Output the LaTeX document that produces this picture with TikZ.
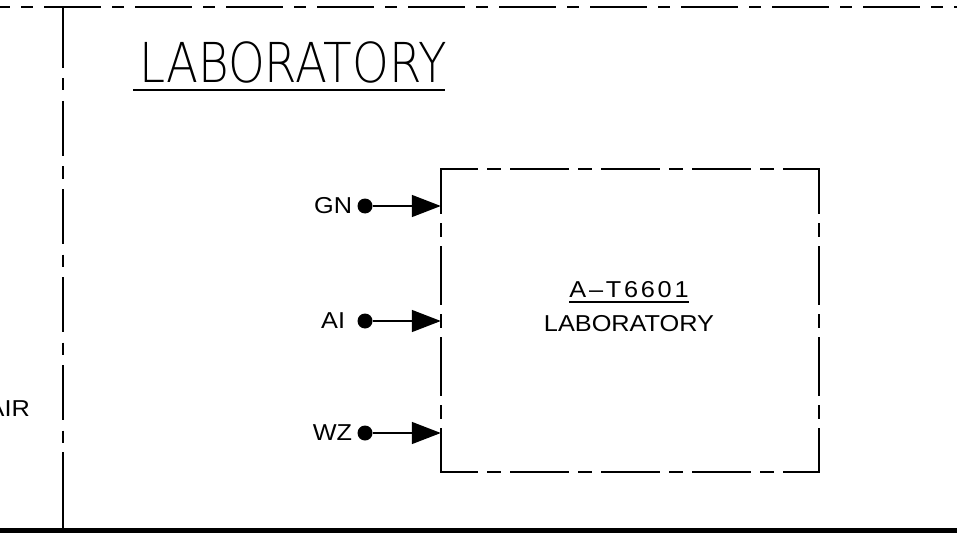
\documentclass[tikz,border=0pt]{standalone}
\usepackage{fontspec}
\setmainfont{Liberation Sans}[FakeStretch=1.1]
\newfontfamily\titlefont{DejaVu Sans ExtraLight}[FakeStretch=0.85]
\usetikzlibrary{arrows.meta, positioning}

\begin{document}
\begin{tikzpicture}[x=1pt, y=-1pt, >={Triangle[length=29pt, width=22pt]},
    border/.style={line width=2pt},
    centerline/.style={line width=2pt, dash pattern=on 57pt off 11pt on 12pt off 11pt},
    vcenterline/.style={line width=2pt, dash pattern=on 55pt off 10.5pt on 12pt off 10.5pt},
    tag/.style={font=\fontsize{23}{27}\selectfont, inner sep=0pt},
    feed/.style={circle, fill=black, inner sep=0pt, minimum size=15pt},
    feedline/.style={->, line width=1.5pt}]
    \useasboundingbox (0,0) rectangle (957,540);
    \clip (0,0) rectangle (957,540);

    % Area boundaries
    \draw[centerline, dash phase=46.7pt] (0,7) -- (957,7);
    \draw[vcenterline, dash phase=82pt] (63,7) -- (63,530);
    \draw[border] (63,7) -- (63,68);
    \draw[border] (63,452) -- (63,530);
    \draw[line width=5pt] (0,530) -- (957,530);

    % Area name
    \node[anchor=base west, inner sep=0pt, font=\titlefont\fontsize{55}{60}\selectfont] (title) at (139,83) {LABORATORY};
    \draw[border] ([xshift=-6pt, yshift=-7pt]title.base west) -- ([xshift=-2pt, yshift=-7pt]title.base east);
    \node[tag, anchor=base east] (air) at (30,416) {AIR};

    % Laboratory package
    \node[minimum width=378pt, minimum height=302.7pt, inner sep=0pt] (lab) at (630,320.35) {};
    \draw[centerline, line cap=rect, dash phase=21pt] (lab.north west) -- (lab.north east);
    \draw[centerline, line cap=rect, dash phase=21pt] (lab.south west) -- (lab.south east);
    \draw[centerline, line cap=rect, dash phase=13pt] (lab.north west) -- (lab.south west);
    \draw[centerline, line cap=rect, dash phase=13pt] (lab.north east) -- (lab.south east);
    \node[tag, anchor=base] (labno) at (629,297) {\addfontfeature{LetterSpace=12}A–T6601};
    \draw[line width=1.5pt] ([yshift=-5pt]labno.base west) -- ([yshift=-5pt]labno.base east);
    \node[tag, anchor=base] (labname) at (629,331) {LABORATORY};

    % Utility feeds
    \node[feed] (gn) at (365,206) {};
    \node[tag, left=5pt of gn] (gntag) {GN};
    \draw[feedline] (gn) -- (gn -| lab.west);

    \node[feed] (ai) at (365,321) {};
    \node[tag, left=12pt of ai] (aitag) {AI};
    \draw[feedline] (ai) -- (ai -| lab.west);

    \node[feed] (wz) at (365,433) {};
    \node[tag, left=5pt of wz] (wztag) {WZ};
    \draw[feedline] (wz) -- (wz -| lab.west);
\end{tikzpicture}
\end{document}
